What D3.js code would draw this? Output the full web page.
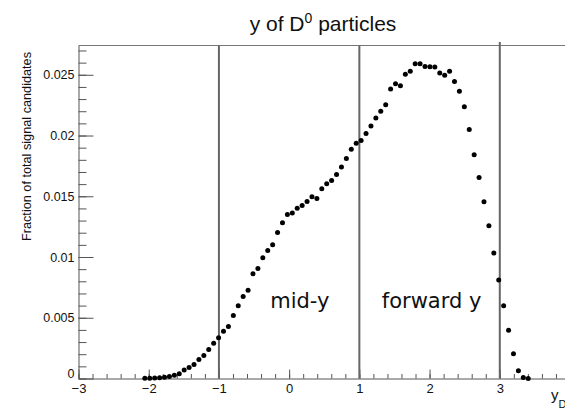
<!DOCTYPE html>
<html>
<head>
<meta charset="utf-8">
<script src="https://cdn.jsdelivr.net/npm/d3@7"></script>
<style>
  body { margin: 0; background: #fff; }
  svg { display: block; font-family: "Liberation Sans", Arial, sans-serif; }
</style>
</head>
<body>
<svg id="chart" width="565" height="411"></svg>
<script>
// Rapidity bin centres (bin width 0.07 over -3..4)
const rapidity = [
    -2.055, -1.985, -1.915, -1.845, -1.775, -1.705, -1.635, -1.565, -1.495, -1.425,
    -1.355, -1.285, -1.215, -1.145, -1.075, -1.005, -0.935, -0.865, -0.795, -0.725,
    -0.655, -0.585, -0.515, -0.445, -0.375, -0.305, -0.235, -0.165, -0.095, -0.025,
    0.045, 0.115, 0.185, 0.255, 0.325, 0.395, 0.465, 0.535, 0.605, 0.675,
    0.745, 0.815, 0.885, 0.955, 1.025, 1.095, 1.165, 1.235, 1.305, 1.375,
    1.445, 1.515, 1.585, 1.655, 1.725, 1.795, 1.865, 1.935, 2.005, 2.075,
    2.145, 2.215, 2.285, 2.355, 2.425, 2.495, 2.565, 2.635, 2.705, 2.775,
    2.845, 2.915, 2.985, 3.055, 3.125, 3.195, 3.265, 3.335, 3.405
];

// Fraction of total signal candidates per bin
const fraction = [
    0.00002, 0.00003, 0.00005, 0.00007, 0.0001, 0.00017, 0.00027, 0.0004, 0.0007, 0.0009,
    0.00116, 0.00157, 0.0019, 0.00238, 0.00291, 0.00336, 0.00389, 0.00427, 0.00518, 0.00598,
    0.00674, 0.00726, 0.00862, 0.00906, 0.00994, 0.01054, 0.01101, 0.01201, 0.01283, 0.01349,
    0.01363, 0.01401, 0.01423, 0.01457, 0.01495, 0.01481, 0.01561, 0.01603, 0.0163, 0.0168,
    0.0174, 0.0181, 0.01886, 0.01936, 0.0196, 0.02016, 0.02078, 0.02145, 0.022, 0.02253,
    0.02382, 0.02426, 0.02409, 0.02505, 0.0253, 0.02591, 0.02591, 0.02569, 0.02567, 0.02563,
    0.02514, 0.02496, 0.0253, 0.02445, 0.02365, 0.02236, 0.02049, 0.01842, 0.01655, 0.01454,
    0.01258, 0.01033, 0.0081, 0.00598, 0.00397, 0.00204, 0.00063, 0.00009, 0.00001
];

// Region boundaries and labels
const cutValues = [-1, 1, 3];
const regionLabels = ['mid-y', 'forward y'];

// Axis ticks
const xTicks = [-3, -2, -1, 0, 1, 2, 3];
const yTicks = [0, 0.005, 0.01, 0.015, 0.02, 0.025];

const svg = d3.select('#chart');
const margin = { top: 45.5, left: 78.5, bottom: 378.5 };

const x = d3.scaleLinear().domain([-3, 4]).range([margin.left, 570]);
const y = d3.scaleLinear().domain([0, 0.02741]).range([margin.bottom, margin.top]);

const axisColor = '#555';

// Frame top
svg.append('line')
    .attr('x1', margin.left).attr('x2', 565)
    .attr('y1', margin.top).attr('y2', margin.top)
    .attr('stroke', '#777').attr('stroke-width', 1.2);

// Minor x ticks
svg.append('g')
    .attr('transform', `translate(0, ${margin.bottom})`)
    .call(d3.axisBottom(x).ticks(35).tickSize(-4.5).tickFormat(''))
    .call(g => g.select('.domain').remove())
    .call(g => g.selectAll('line').attr('stroke', axisColor));

// Major x axis
svg.append('g')
    .attr('transform', `translate(0, ${margin.bottom})`)
    .call(d3.axisBottom(x).tickValues(xTicks).tickSize(-9).tickPadding(5)
        .tickFormat(d3.format('d')).tickSizeOuter(0))
    .call(g => g.select('.domain').attr('stroke', axisColor))
    .call(g => g.selectAll('line').attr('stroke', axisColor))
    .call(g => g.selectAll('text')
        .style('font-size', '13px')
        .attr('fill', '#111'));

// Minor y ticks
svg.append('g')
    .attr('transform', `translate(${margin.left}, 0)`)
    .call(d3.axisLeft(y).tickValues(d3.range(0, 0.0274, 0.001)).tickSize(-8).tickFormat(''))
    .call(g => g.select('.domain').remove())
    .call(g => g.selectAll('line').attr('stroke', axisColor));

// Major y axis
svg.append('g')
    .attr('transform', `translate(${margin.left}, 0)`)
    .call(d3.axisLeft(y).tickValues(yTicks).tickSize(-15).tickPadding(4)
        .tickFormat(d3.format('~g')).tickSizeOuter(0))
    .call(g => g.select('.domain').attr('stroke', axisColor))
    .call(g => g.selectAll('line').attr('stroke', axisColor))
    .call(g => g.selectAll('text')
        .style('font-size', '12.5px')
        .attr('fill', '#111')
        .attr('dy', d => d === 0 ? '-0.05em' : '0.32em'));

// Region boundary lines
svg.selectAll('.cut')
    .data(cutValues)
    .enter()
    .append('line')
    .attr('class', 'cut')
    .attr('x1', d => x(d)).attr('x2', d => x(d))
    .attr('y1', d => d === 3 ? margin.top - 3.5 : margin.top)
    .attr('y2', margin.bottom)
    .attr('stroke', '#666')
    .attr('stroke-width', 2);

// Data points
svg.selectAll('.pt')
    .data(rapidity)
    .enter()
    .append('circle')
    .attr('class', 'pt')
    .attr('cx', d => x(d))
    .attr('cy', (d, i) => y(fraction[i]))
    .attr('r', 2.5)
    .attr('fill', '#000');

// Region labels
svg.selectAll('.region-label')
    .data(regionLabels)
    .enter()
    .append('text')
    .attr('class', 'region-label')
    .attr('x', (d, i) => x(i === 0 ? -0.27 : 1.32))
    .attr('y', y(0.0058))
    .style('font-family', '"DejaVu Sans", sans-serif')
    .style('font-size', '21px')
    .attr('fill', '#111')
    .text(d => d);

// Title
const title = svg.append('text')
    .attr('x', 323)
    .attr('y', 31)
    .attr('text-anchor', 'middle')
    .style('font-size', '21px')
    .attr('fill', '#111');
title.append('tspan').text('y of D');
title.append('tspan').attr('dy', -8).style('font-size', '14px').text('0');
title.append('tspan').attr('dy', 8).text(' particles');

// Y axis title
svg.append('text')
    .attr('transform', 'translate(31, 52) rotate(-90)')
    .attr('text-anchor', 'end')
    .style('font-size', '12.7px')
    .attr('fill', '#111')
    .text('Fraction of total signal candidates');

// X axis title
const xTitle = svg.append('text')
    .attr('x', 551)
    .attr('y', 400)
    .style('font-size', '15px')
    .attr('fill', '#111');
xTitle.append('tspan').text('y');
xTitle.append('tspan').attr('dy', 8).style('font-size', '11px').text('D');
</script>
</body>
</html>
